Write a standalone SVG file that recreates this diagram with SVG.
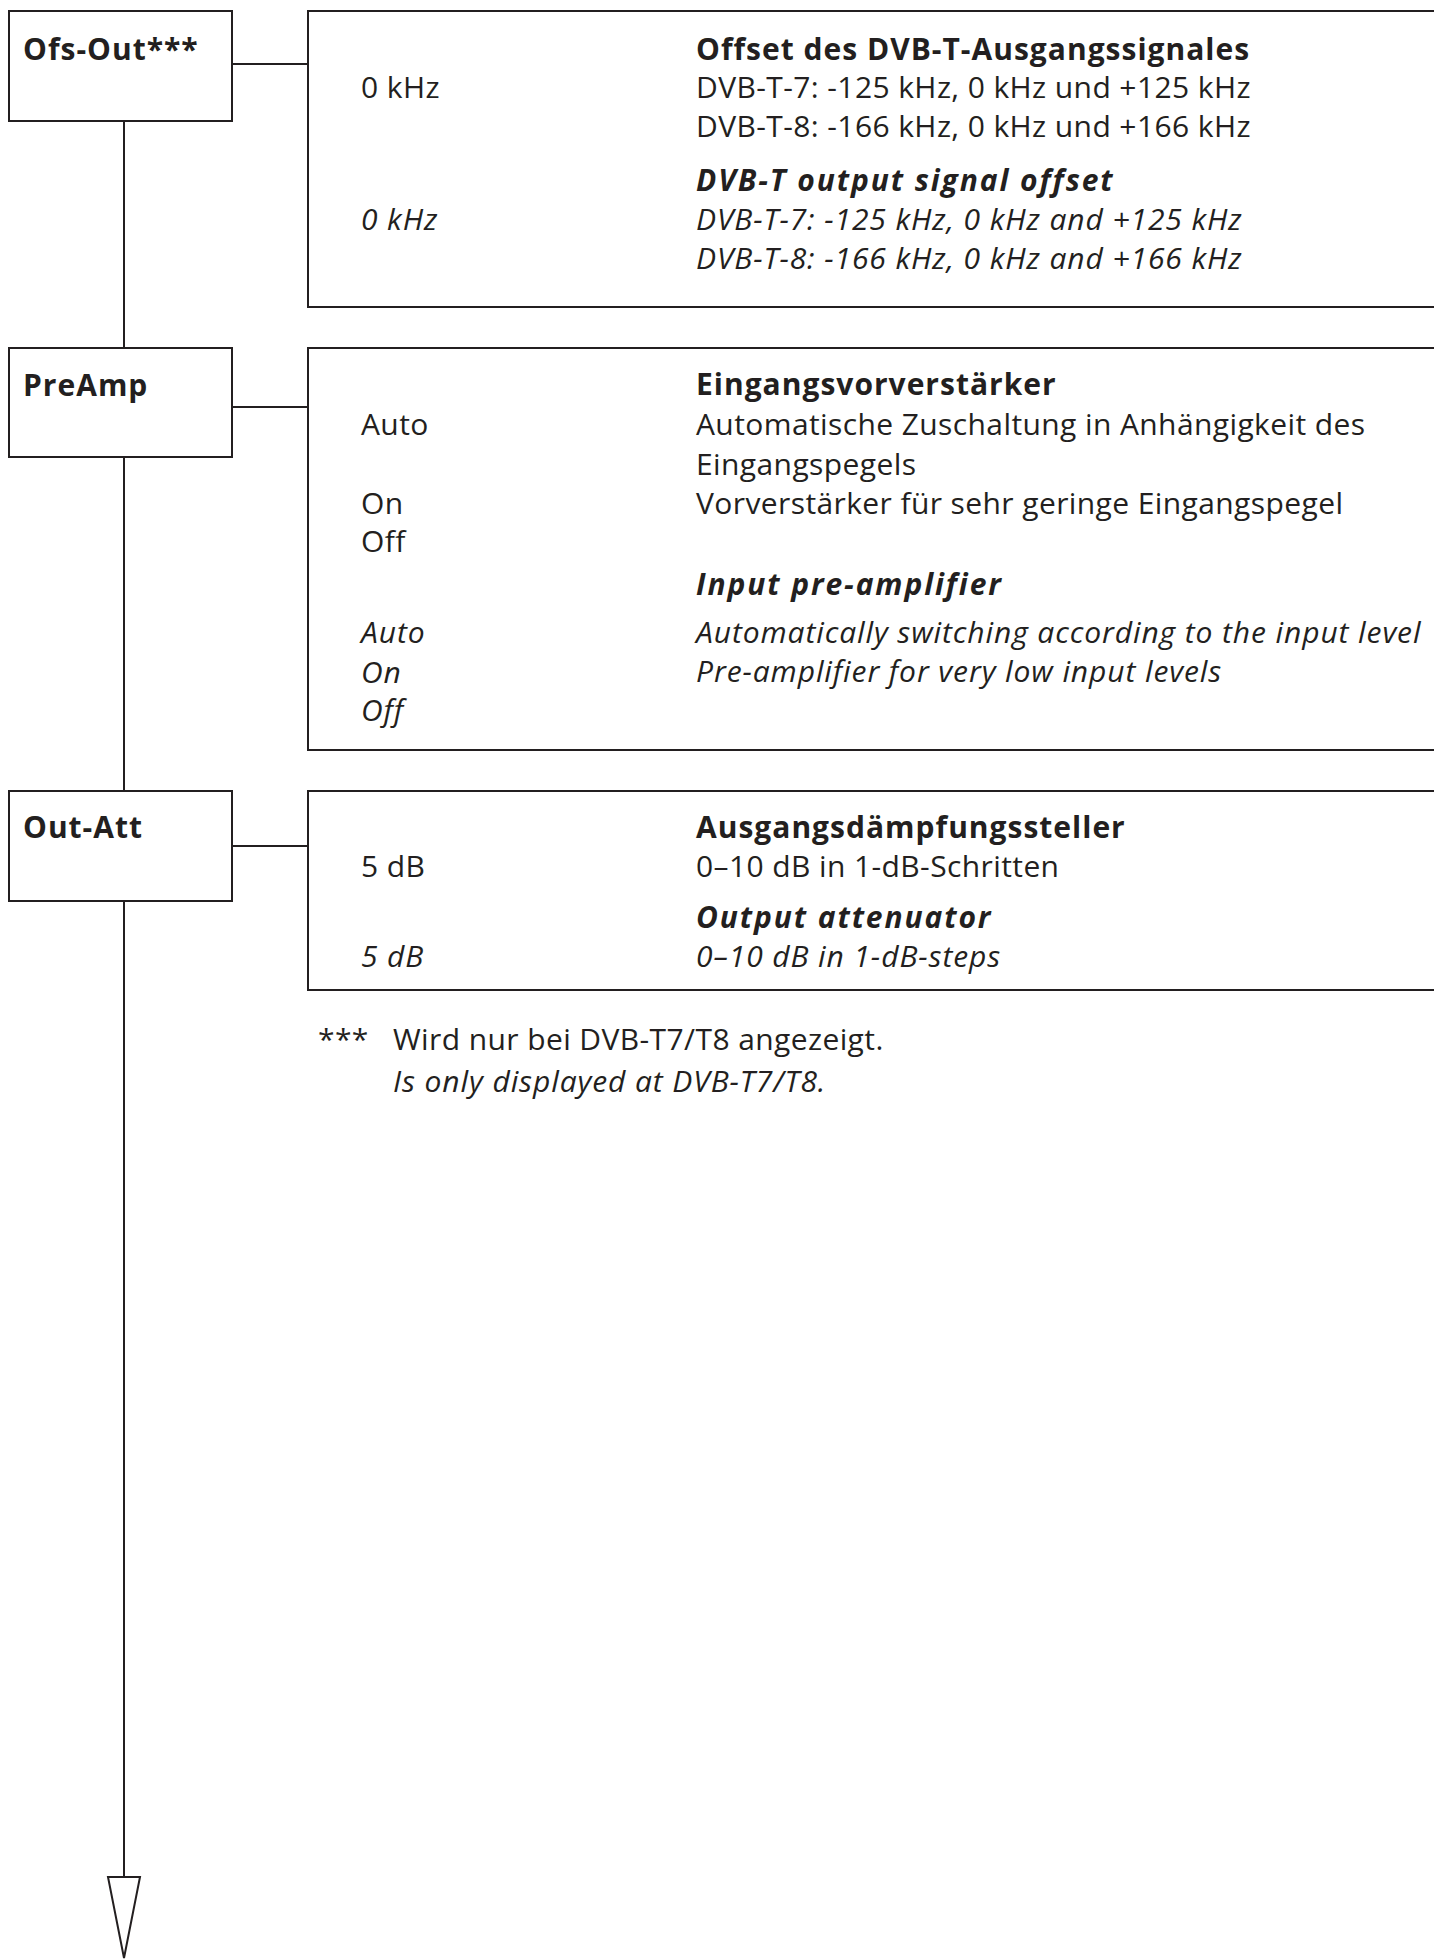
<svg xmlns="http://www.w3.org/2000/svg" width="1434" height="1959" viewBox="0 0 1434 1959">
<style>
.box{fill:#fff;stroke:#231f20;stroke-width:2}
.ln{fill:none;stroke:#231f20;stroke-width:2}
text{font-family:"Open Sans","Liberation Sans",sans-serif;font-size:30px;fill:#231f20;letter-spacing:0.4px}
.b{font-weight:bold;letter-spacing:1px}
.i{font-style:italic;letter-spacing:0.9px}
.bi{font-weight:bold;font-style:italic;letter-spacing:1.9px}
</style>
<rect width="1434" height="1959" fill="#fff"/>
<g id="connectors">
<line class="ln" x1="124" y1="121" x2="124" y2="348"/>
<line class="ln" x1="124" y1="457" x2="124" y2="791"/>
<line class="ln" x1="124" y1="901" x2="124" y2="1877"/>
<polygon class="ln" points="108,1877 140,1877 124,1958"/>
<line class="ln" x1="232" y1="64" x2="308" y2="64"/>
<line class="ln" x1="232" y1="407" x2="308" y2="407"/>
<line class="ln" x1="232" y1="846" x2="308" y2="846"/>
</g>
<g id="node-ofs-out">
<rect class="box" x="9" y="11" width="223" height="110"/>
<text class="b" x="23" y="60">Ofs-Out***</text>
</g>
<g id="detail-ofs-out">
<rect class="box" x="308" y="11" width="1140" height="296"/>
<text x="361" y="98">0 kHz</text>
<text class="b" x="696" y="60">Offset des DVB-T-Ausgangssignales</text>
<text x="696" y="98">DVB-T-7: -125 kHz, 0 kHz und +125 kHz</text>
<text x="696" y="137">DVB-T-8: -166 kHz, 0 kHz und +166 kHz</text>
<text class="i" x="361" y="230">0 kHz</text>
<text class="bi" x="696" y="191">DVB-T output signal offset</text>
<text class="i" x="696" y="230">DVB-T-7: -125 kHz, 0 kHz and +125 kHz</text>
<text class="i" x="696" y="269">DVB-T-8: -166 kHz, 0 kHz and +166 kHz</text>
</g>
<g id="node-preamp">
<rect class="box" x="9" y="348" width="223" height="109"/>
<text class="b" x="23" y="396">PreAmp</text>
</g>
<g id="detail-preamp">
<rect class="box" x="308" y="348" width="1140" height="402"/>
<text x="361" y="435">Auto</text>
<text x="361" y="514">On</text>
<text x="361" y="552">Off</text>
<text class="b" x="696" y="395">Eingangsvorverstärker</text>
<text x="696" y="435">Automatische Zuschaltung in Anhängigkeit des</text>
<text x="696" y="475">Eingangspegels</text>
<text x="696" y="514">Vorverstärker für sehr geringe Eingangspegel</text>
<text class="bi" x="696" y="595">Input pre-amplifier</text>
<text class="i" x="361" y="643">Auto</text>
<text class="i" x="361" y="683">On</text>
<text class="i" x="361" y="721">Off</text>
<text class="i" x="696" y="643">Automatically switching according to the input level</text>
<text class="i" x="696" y="682">Pre-amplifier for very low input levels</text>
</g>
<g id="node-out-att">
<rect class="box" x="9" y="791" width="223" height="110"/>
<text class="b" x="23" y="838">Out-Att</text>
</g>
<g id="detail-out-att">
<rect class="box" x="308" y="791" width="1140" height="199"/>
<text x="361" y="877">5 dB</text>
<text class="b" x="696" y="838">Ausgangsdämpfungssteller</text>
<text x="696" y="877">0–10 dB in 1-dB-Schritten</text>
<text class="i" x="361" y="967">5 dB</text>
<text class="bi" x="696" y="928">Output attenuator</text>
<text class="i" x="696" y="967">0–10 dB in 1-dB-steps</text>
</g>
<g id="footnote">
<text x="318" y="1050">***</text>
<text x="393" y="1050">Wird nur bei DVB-T7/T8 angezeigt.</text>
<text class="i" x="393" y="1092">Is only displayed at DVB-T7/T8.</text>
</g>
</svg>
